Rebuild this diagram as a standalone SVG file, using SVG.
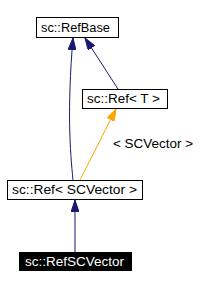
<svg xmlns="http://www.w3.org/2000/svg" width="214" height="289" viewBox="0 0 214 289">
<style>
.box{fill:#fff;stroke:#000;stroke-width:1}
.t{font-family:"Liberation Sans",Arial,sans-serif;font-size:12px;fill:#000}
.w{fill:#fff}
.e{fill:none;stroke:#191970;stroke-width:1}
.o{fill:none;stroke:#ffa500;stroke-width:1}
</style>
<defs>
<marker id="ab" markerWidth="13" markerHeight="8" refX="12" refY="4" orient="auto" markerUnits="userSpaceOnUse" viewBox="0 0 13 8"><path d="M0,0 L12,4 L0,8 Z" fill="#191970" stroke="#191970"/></marker>
<marker id="ao" markerWidth="13" markerHeight="8" refX="12" refY="4" orient="auto" markerUnits="userSpaceOnUse" viewBox="0 0 13 8"><path d="M0,0 L12,4 L0,8 Z" fill="#ffa500" stroke="#ffa500"/></marker>
</defs>
<g id="connectors">
<path class="e" d="M73,180 C70,150 67,110 73,38" marker-end="url(#ab)"/>
<path class="e" d="M118,89 L85,38" marker-end="url(#ab)"/>
<path class="o" d="M80,180 L116,109" marker-end="url(#ao)"/>
<text class="t" x="113" y="148" textLength="80" lengthAdjust="spacingAndGlyphs">&lt; SCVector &gt;</text>
<path class="e" d="M75,252 L75,200" marker-end="url(#ab)"/>
</g>
<g id="node-RefBase">
<rect class="box" x="36.5" y="17.5" width="82" height="20"/>
<text class="t" x="41" y="32" textLength="69" lengthAdjust="spacingAndGlyphs">sc::RefBase</text>
</g>
<g id="node-RefT">
<rect class="box" x="82.5" y="89.5" width="85" height="19"/>
<text class="t" x="87" y="103" textLength="73" lengthAdjust="spacingAndGlyphs">sc::Ref&lt; T &gt;</text>
</g>
<g id="node-RefSCVector-tmpl">
<rect class="box" x="7.5" y="180.5" width="135" height="19"/>
<text class="t" x="12" y="194" textLength="125" lengthAdjust="spacingAndGlyphs">sc::Ref&lt; SCVector &gt;</text>
</g>
<g id="node-RefSCVector">
<rect x="19" y="252" width="113" height="19" fill="#000"/>
<text class="t w" x="25" y="266" textLength="99" lengthAdjust="spacingAndGlyphs">sc::RefSCVector</text>
</g>
</svg>
